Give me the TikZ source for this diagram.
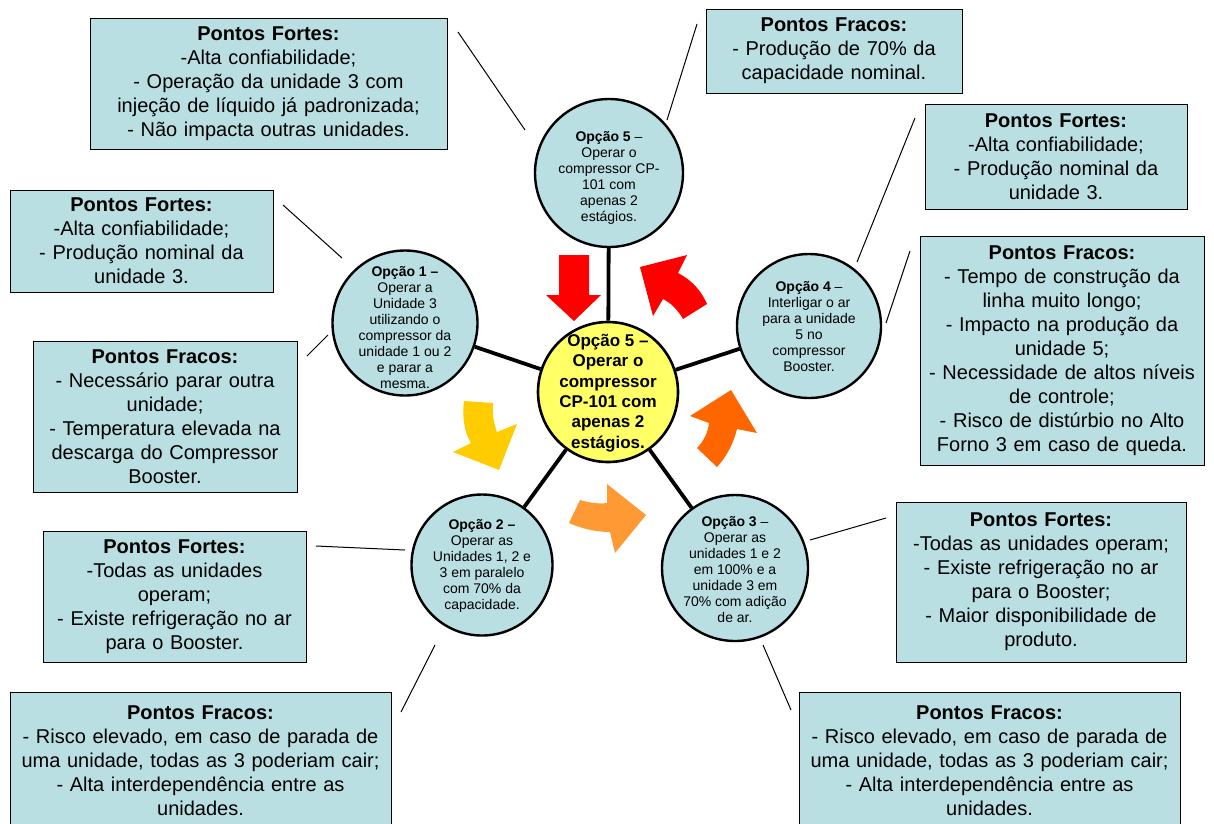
\documentclass[tikz,border=0pt]{standalone}
\usepackage{fontspec}
\setmainfont{Liberation Sans}
\definecolor{boxcyan}{HTML}{B9DFE3}
\definecolor{ctryellow}{HTML}{FFFF66}
\definecolor{arrred}{HTML}{FF0000}
\definecolor{arryellow}{HTML}{FFCC00}
\definecolor{arrorange}{HTML}{FF9933}
\definecolor{arrdark}{HTML}{FF6600}
\begin{document}
\begin{tikzpicture}[x=1pt,y=-1pt,
  infobox/.style={draw=black, fill=boxcyan, line width=0.9pt, inner sep=0pt, align=center,
    font=\fontsize{20}{24}\selectfont},
  optcircle/.style={circle, draw=black, fill=boxcyan, line width=2.4pt, inner sep=0pt},
  opttext/.style={align=center, inner sep=0pt, font=\fontsize{14}{16}\selectfont},
  spoke/.style={line width=3.8pt, black},
  thinline/.style={line width=1pt, black}
]
\useasboundingbox (0,0) rectangle (1214,823);

% circles
\node[optcircle, minimum size=148pt] (o5) at (609,173) {};
\node[optcircle, minimum size=145pt] (o1) at (405,323) {};
\node[optcircle, minimum size=144pt] (o4) at (809,326) {};
\node[optcircle, minimum size=141pt] (o2) at (482,565) {};
\node[optcircle, minimum size=146pt] (o3) at (735,568) {};
\node[circle, draw=black, fill=ctryellow, line width=2.6pt, inner sep=0pt, minimum size=140pt] (c) at (608,392) {};

% spokes
\draw[spoke] (c) -- (o5);
\draw[spoke] (c) -- (o1);
\draw[spoke] (c) -- (o4);
\draw[spoke] (c) -- (o2);
\draw[spoke] (c) -- (o3);

% circle texts
\node[opttext] (o5t) at (609,178) {\textbf{Opção 5} –\\Operar o\\compressor CP-\\101 com\\apenas 2\\estágios.};
\node[opttext] (o1t) at (405,328) {\textbf{Opção 1 –}\\Operar a\\Unidade 3\\utilizando o\\compressor da\\unidade 1 ou 2\\e parar a\\mesma.};
\node[opttext] (o4t) at (809,327) {\textbf{Opção 4} –\\Interligar o ar\\para a unidade\\5 no\\compressor\\Booster.};
\node[opttext] (o2t) at (482,566) {\textbf{Opção 2 –}\\Operar as\\Unidades 1, 2 e\\3 em paralelo\\com 70\% da\\capacidade.};
\node[opttext] (o3t) at (735,570) {\textbf{Opção 3} –\\Operar as\\unidades 1 e 2\\em 100\% e a\\unidade 3 em\\70\% com adição\\de ar.};
\node[align=center, inner sep=0pt, font=\bfseries\fontsize{17}{20.4}\selectfont] (ct) at (608,393) {Opção 5 –\\Operar o\\compressor\\CP-101 com\\apenas 2\\estágios.};

% block arrows
\fill[arrred] (559,255) -- (589,255) -- (589,295) -- (601,295) -- (574,321) -- (546,295) -- (559,295) -- cycle;
\fill[arrred] (640,267) -- (687,255) -- (678,273) .. controls (692,280) and (702,292) .. (707,304) -- (683,319) .. controls (678,310) and (671,303) .. (663,299) -- (653,316) -- cycle;
\fill[arryellow] (464,401) -- (493,403) .. controls (492,415) and (494,424) .. (497,432) -- (517,424) -- (499,470) -- (453,452) -- (471,443) .. controls (464,432) and (462,415) .. (464,401) -- cycle;
\fill[arrorange] (580,500) .. controls (590,503) and (600,504) .. (607,503) -- (607,484) -- (646,515) -- (615,553) -- (610,532) .. controls (595,532) and (580,528) .. (569,523) -- cycle;
\fill[arrdark] (731,390) -- (757,433) -- (737,429) .. controls (733,445) and (726,457) .. (717,467) -- (697,448) .. controls (704,441) and (708,432) .. (709,423) -- (690,416) -- cycle;

% info boxes
\node[infobox, text width=357pt, minimum height=131pt] (b1) at (268.5,83.5)
  {\textbf{Pontos Fortes:}\\-Alta confiabilidade;\\- Operação da unidade 3 com\\injeção de líquido já padronizada;\\- Não impacta outras unidades.};
\node[infobox, text width=256pt, minimum height=84pt] (b2) at (834,51)
  {\textbf{Pontos Fracos:}\\- Produção de 70\% da\\capacidade nominal.};
\node[infobox, text width=262pt, minimum height=105pt] (b3) at (1056,156.5)
  {\textbf{Pontos Fortes:}\\-Alta confiabilidade;\\- Produção nominal da\\unidade 3.};
\node[infobox, text width=263pt, minimum height=102pt] (b4) at (141.5,241)
  {\textbf{Pontos Fortes:}\\-Alta confiabilidade;\\- Produção nominal da\\unidade 3.};
\node[infobox, text width=264pt, minimum height=151pt] (b5) at (165,416.5)
  {\textbf{Pontos Fracos:}\\- Necessário parar outra\\unidade;\\- Temperatura elevada na\\descarga do Compressor\\Booster.};
\node[infobox, text width=284pt, minimum height=229pt] (b6) at (1062,350.5)
  {\textbf{Pontos Fracos:}\\- Tempo de construção da\\linha muito longo;\\- Impacto na produção da\\unidade 5;\\- Necessidade de altos níveis\\de controle;\\- Risco de distúrbio no Alto\\Forno 3 em caso de queda.};
\node[infobox, text width=263pt, minimum height=131pt] (b7) at (174.5,596.5)
  {\textbf{Pontos Fortes:}\\-Todas as unidades\\operam;\\- Existe refrigeração no ar\\para o Booster.};
\node[infobox, text width=290pt, minimum height=160pt] (b8) at (1041,582)
  {\textbf{Pontos Fortes:}\\-Todas as unidades operam;\\- Existe refrigeração no ar\\para o Booster;\\- Maior disponibilidade de\\produto.};
\node[infobox, text width=381pt, minimum height=138pt] (b9) at (200.5,761)
  {\textbf{Pontos Fracos:}\\- Risco elevado, em caso de parada de\\uma unidade, todas as 3 poderiam cair;\\- Alta interdependência entre as\\unidades.};
\node[infobox, text width=381pt, minimum height=138pt] (b10) at (989.5,761)
  {\textbf{Pontos Fracos:}\\- Risco elevado, em caso de parada de\\uma unidade, todas as 3 poderiam cair;\\- Alta interdependência entre as\\unidades.};

% thin connectors
\coordinate (l1a) at (458,32);  \coordinate (l1b) at (525,130);
\coordinate (l2a) at (697,24);  \coordinate (l2b) at (667,120);
\coordinate (l3a) at (283,205); \coordinate (l3b) at (342,258);
\coordinate (l4a) at (307,356); \coordinate (l4b) at (328,335);
\coordinate (l5a) at (915,118); \coordinate (l5b) at (857,262);
\coordinate (l6a) at (910,251); \coordinate (l6b) at (886,323);
\coordinate (l7a) at (316,546); \coordinate (l7b) at (405,550);
\coordinate (l8a) at (435,645); \coordinate (l8b) at (401,712);
\coordinate (l9a) at (886,518); \coordinate (l9b) at (810,540);
\coordinate (l10a) at (763,645); \coordinate (l10b) at (791,710);
\foreach \i in {1,...,10} {\draw[thinline] (l\i a) -- (l\i b);}
\end{tikzpicture}
\end{document}
